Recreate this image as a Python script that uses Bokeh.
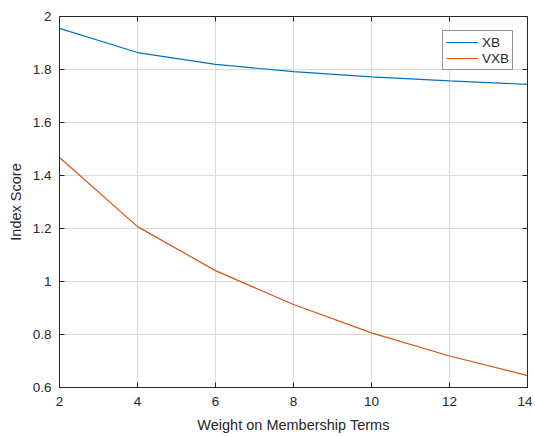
from bokeh.plotting import figure
from bokeh.models import (LinearAxis, FixedTicker, CustomJSTickFormatter, Range1d,
                          Legend, LegendItem, ColumnDataSource)
from bokeh.embed import file_html
from bokeh.resources import INLINE

weights = [2, 4, 6, 8, 10, 12, 14]
xb = [1.955, 1.864, 1.819, 1.792, 1.772, 1.757, 1.744]
vxb = [1.468, 1.207, 1.041, 0.913, 0.806, 0.719, 0.645]
x_ticks = [2, 4, 6, 8, 10, 12, 14]
y_ticks = [0.6, 0.8, 1.0, 1.2, 1.4, 1.6, 1.8, 2.0]

FONT = "Liberation Sans"
AXC = "#262626"

p = figure(width=532, height=435, output_backend="svg", toolbar_location=None,
           x_range=Range1d(2, 14), y_range=Range1d(0.6, 2.0),
           min_border_left=59, min_border_right=5, min_border_top=16, min_border_bottom=45)
p.outline_line_color = None
p.background_fill_color = "white"
p.border_fill_color = "white"

src = ColumnDataSource(dict(w=weights, xb=xb, vxb=vxb))
r1 = p.line("w", "xb", source=src, line_color="#0072BD", line_width=1.2)
r2 = p.line("w", "vxb", source=src, line_color="#D95319", line_width=1.2)

fmt = CustomJSTickFormatter(code="return String(Number(tick.toFixed(1)));")

def style_axis(ax, labels=True):
    ax.axis_line_color = AXC
    ax.axis_line_width = 1
    ax.major_tick_line_color = AXC
    ax.major_tick_in = 5
    ax.major_tick_out = 0
    ax.minor_tick_line_color = None
    ax.major_label_text_font = FONT
    ax.major_label_text_font_size = "13.5px"
    ax.major_label_text_color = AXC
    ax.axis_label_text_font = FONT
    ax.axis_label_text_font_size = "14.5px"
    ax.axis_label_text_font_style = "normal"
    ax.axis_label_text_color = AXC
    if not labels:
        ax.major_label_text_font_size = "0px"
        ax.major_label_text_color = None

p.xaxis.ticker = FixedTicker(ticks=x_ticks)
p.yaxis.ticker = FixedTicker(ticks=y_ticks)
p.xaxis.formatter = fmt
p.yaxis.formatter = fmt
p.xaxis.axis_label = "Weight on Membership Terms"
p.yaxis.axis_label = "Index Score"
p.xaxis.major_label_standoff = 9
p.yaxis.major_label_standoff = 8
p.xaxis.axis_label_standoff = 8
p.yaxis.axis_label_standoff = 6
style_axis(p.xaxis[0])
style_axis(p.yaxis[0])

top = LinearAxis(ticker=FixedTicker(ticks=x_ticks))
right = LinearAxis(ticker=FixedTicker(ticks=y_ticks))
style_axis(top, labels=False)
style_axis(right, labels=False)
top.major_label_standoff = 0
right.major_label_standoff = 0
p.add_layout(top, "above")
p.add_layout(right, "right")

p.xgrid.ticker = FixedTicker(ticks=x_ticks)
p.ygrid.ticker = FixedTicker(ticks=y_ticks)
p.grid.grid_line_color = "#dcdcdc"
p.grid.grid_line_width = 1

legend = Legend(items=[LegendItem(label="XB", renderers=[r1]),
                       LegendItem(label="VXB", renderers=[r2])],
                location="top_right")
legend.label_text_font = FONT
legend.label_text_font_size = "13.5px"
legend.label_text_color = AXC
legend.border_line_color = AXC
legend.border_line_width = 1
legend.background_fill_alpha = 1
legend.margin = 14
legend.padding = 3
legend.spacing = 0
legend.glyph_width = 32
legend.glyph_height = 16
legend.label_height = 16
legend.label_standoff = 4
p.add_layout(legend, "center")

open("out.html", "w").write(file_html(p, INLINE))
